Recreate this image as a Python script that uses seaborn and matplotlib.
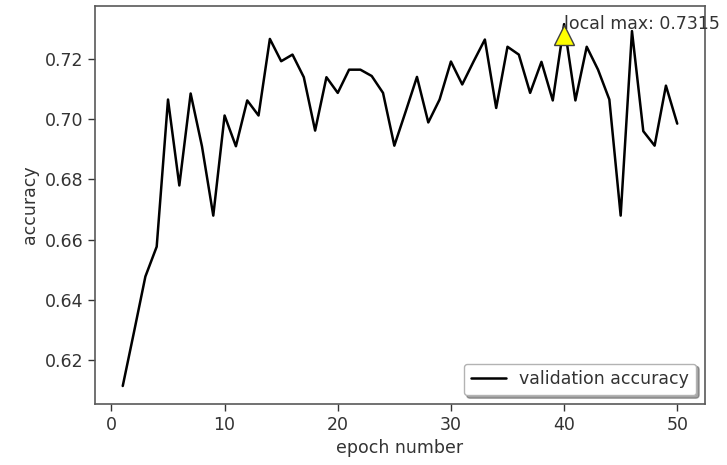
import matplotlib
matplotlib.use("Agg")
import matplotlib.pyplot as plt
import matplotlib.transforms as mtransforms
import seaborn as sns
import pandas as pd

# validation accuracy per epoch
epochs = list(range(1, 51))
val_acc = [0.6115, 0.6295, 0.6478, 0.6577, 0.7065, 0.6780, 0.7085, 0.6910, 0.6680, 0.7012,
           0.6910, 0.7062, 0.7012, 0.7266, 0.7192, 0.7214, 0.7139, 0.6962, 0.7139, 0.7087,
           0.7164, 0.7164, 0.7143, 0.7087, 0.6912, 0.7025, 0.7140, 0.6989, 0.7065, 0.7191,
           0.7115, 0.7191, 0.7264, 0.7037, 0.7240, 0.7214, 0.7087, 0.7190, 0.7062, 0.7315,
           0.7062, 0.7240, 0.7164, 0.7065, 0.6680, 0.7292, 0.6960, 0.6912, 0.7111, 0.6985]
max_epoch = 40

df = pd.DataFrame({"epoch number": epochs, "accuracy": val_acc})

sns.set_style("ticks")
plt.rcParams["font.family"] = ["DejaVu Sans"]
fs = 12.5
plt.rcParams["font.size"] = fs
plt.rcParams["text.color"] = "0.2"
plt.rcParams["axes.labelcolor"] = "0.2"
plt.rcParams["xtick.color"] = "0.2"
plt.rcParams["ytick.color"] = "0.2"

fig = plt.figure(figsize=(7.27, 4.65), dpi=100)
ax = fig.add_axes([0.1307, 0.131, 0.839, 0.856])

sns.lineplot(data=df, x="epoch number", y="accuracy", color="black", lw=1.8,
             label="validation accuracy", ax=ax)

ymax = val_acc[max_epoch - 1]
# yellow triangle with its tip on the local max
tri = mtransforms.offset_copy(ax.transData, fig=fig, y=-7.5, units="points")
ax.plot([max_epoch], [ymax], marker="^", ms=15, color="yellow",
        mec="0.25", mew=1.0, transform=tri, ls="none", zorder=5)
ax.text(max_epoch, ymax, "local max: %.4f" % ymax, ha="left", va="center",
        fontsize=fs, color="0.2", zorder=6)

ax.set_xticks([0, 10, 20, 30, 40, 50])
ax.set_yticks([0.62, 0.64, 0.66, 0.68, 0.70, 0.72])
ax.tick_params(labelsize=fs, length=5, width=1.0)
for s in ax.spines.values():
    s.set_visible(True)
    s.set_color("0.35")
    s.set_linewidth(1.2)
ax.set_xlabel("epoch number", fontsize=fs)
ax.set_ylabel("accuracy", fontsize=fs)
leg = ax.legend(loc="lower right", shadow=True, fancybox=True, fontsize=fs, frameon=True)
leg.get_frame().set_edgecolor("0.7")

fig.savefig("out.png", dpi=100)
